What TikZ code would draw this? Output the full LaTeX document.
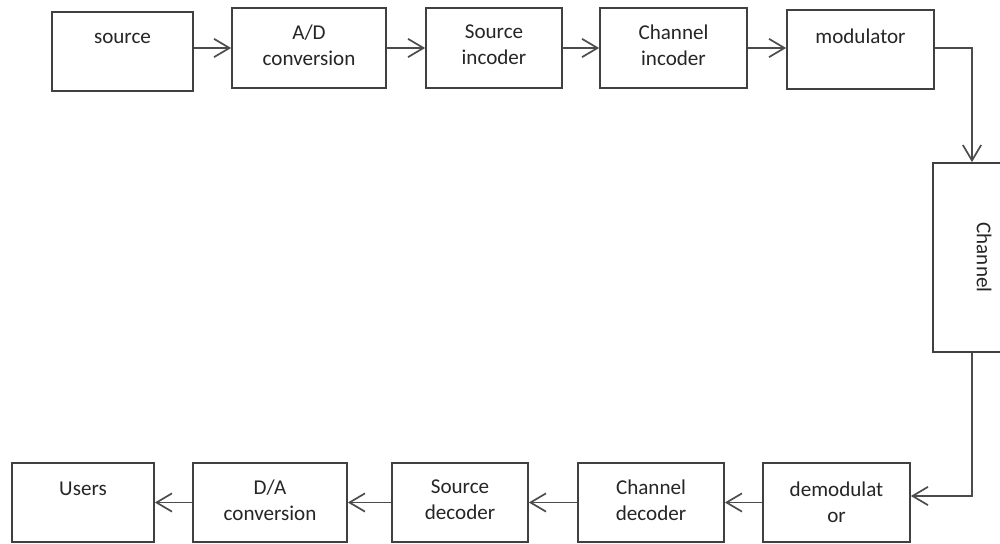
\documentclass[tikz,border=0pt]{standalone}
\usepackage{fontspec}
\setmainfont{Carlito}
\usetikzlibrary{arrows.meta,calc}

\begin{document}
\begin{tikzpicture}[x=0.025cm, y=-0.025cm,
  block/.style={draw=black!75, line width=1.2pt, fill=white, inner sep=0pt},
  txt/.style={align=center, font=\fontsize{15}{18.5}\selectfont, text=black!85},
  flow/.style={draw=black!70, line width=1.2pt, -{Straight Barb[length=11pt,width=13pt]}}]
\useasboundingbox (0,0) rectangle (1000,544);
\fill[white] (0,0) rectangle (1000,544);

% Transmitter chain
\node[block, minimum width=3.525cm, minimum height=1.975cm] (src) at (122.5,51.5) {};
\node[txt] (srcT) at (122.5,38) {source};
\node[block, minimum width=3.85cm, minimum height=2cm] (ad) at (309,48) {};
\node[txt] (adT) at (309,45) {A/D\\conversion};
\node[block, minimum width=3.4cm, minimum height=2cm] (sinc) at (494,48) {};
\node[txt] (sincT) at (494,45) {Source\\incoder};
\node[block, minimum width=3.675cm, minimum height=2cm] (cinc) at (673.5,48) {};
\node[txt] (cincT) at (673.5,45) {Channel\\incoder};
\node[block, minimum width=3.675cm, minimum height=1.975cm] (mod) at (860.5,49.5) {};
\node[txt] (modT) at (860.5,36) {modulator};

% Channel
\node[block, minimum width=1.95cm, minimum height=4.725cm] (chan) at (972,257.5) {};
\node[txt, rotate=-90] (chanT) at (984,257.5) {Channel};

% Receiver chain
\node[block, minimum width=3.675cm, minimum height=1.975cm] (demod) at (836.5,502.5) {};
\node[txt] (demodT) at (836.5,502) {demodulat\\or};
\node[block, minimum width=3.65cm, minimum height=1.975cm] (cdec) at (651,502.5) {};
\node[txt] (cdecT) at (651,500) {Channel\\decoder};
\node[block, minimum width=3.4cm, minimum height=1.975cm] (sdec) at (460,502.5) {};
\node[txt] (sdecT) at (460,500) {Source\\decoder};
\node[block, minimum width=3.85cm, minimum height=1.975cm] (da) at (270,502.5) {};
\node[txt] (daT) at (270,500) {D/A\\conversion};
\node[block, minimum width=3.55cm, minimum height=1.975cm] (users) at (83,502.5) {};
\node[txt] (usersT) at (83,489) {Users};

% Arrows
\draw[flow] (src.east |- ad.west) -- (ad.west);
\draw[flow] (ad.east) -- (sinc.west);
\draw[flow] (sinc.east) -- (cinc.west);
\draw[flow] (cinc.east) -- (cinc.east -| mod.west);
\draw[flow] (mod.east |- cinc.east) -| (chan.north);
\draw[flow] (chan.south) |- ($(demod.east)+(0,-6.5)$);
\draw[flow] (demod.west) -- (cdec.east);
\draw[flow] (cdec.west) -- (sdec.east);
\draw[flow] (sdec.west) -- (da.east);
\draw[flow] (da.west) -- (users.east);

\end{tikzpicture}
\end{document}
